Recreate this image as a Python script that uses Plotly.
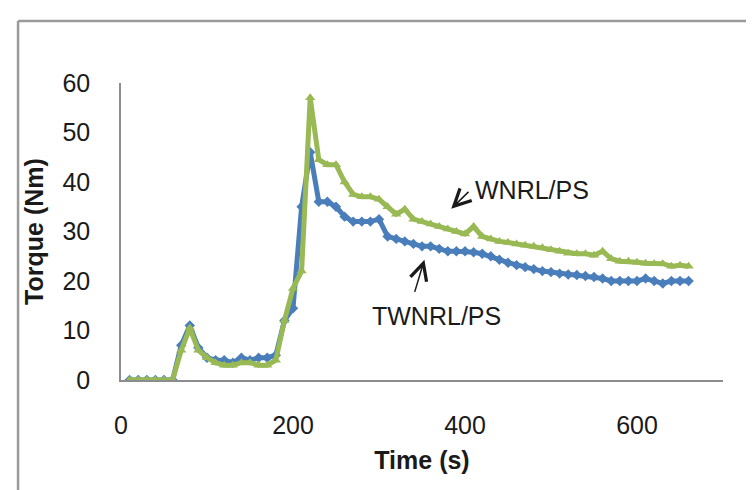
import plotly.graph_objects as go

time_s = [10, 20, 30, 40, 50, 60, 70, 80, 90, 100, 110, 120, 130, 140, 150, 160, 170, 180, 190, 200,
          210, 220, 230, 240, 250, 260, 270, 280, 290, 300, 310, 320, 330, 340, 350, 360, 370, 380, 390, 400,
          410, 420, 430, 440, 450, 460, 470, 480, 490, 500, 510, 520, 530, 540, 550, 560, 570, 580, 590, 600,
          610, 620, 630, 640, 650, 660]

twnrl_ps = [0, 0, 0, 0, 0, 0, 7, 11, 6.5, 4.5, 4, 4, 3.5, 4.5, 4, 4.5, 4.5, 5, 12, 14.5,
            35, 46, 36, 36, 35, 33, 32, 32, 32, 32.5, 29, 28.5, 28, 27.5, 27, 27, 26.5, 26, 26, 26,
            25.8, 25.5, 25, 24.3, 23.7, 23.2, 22.8, 22.4, 22, 21.8, 21.5, 21.3, 21.2, 21, 20.8, 20.5, 20, 20, 20, 20,
            20.5, 20, 19.5, 20, 20, 20]

wnrl_ps = [0, 0, 0, 0, 0, 0, 6, 10.5, 6, 4.5, 3.5, 3, 3, 3.5, 3.5, 3, 3, 4, 12, 18.5,
           22, 57, 44.5, 43.5, 43.5, 40, 37.5, 37, 37, 36.5, 35, 33.5, 34.5, 32.5, 32, 31.5, 31, 30.5, 30, 29.5,
           31, 29, 28.5, 28, 27.8, 27.5, 27.2, 27, 26.7, 26.3, 26, 25.6, 25.5, 25.5, 25.2, 26, 24.5, 24, 24, 23.8,
           23.6, 23.5, 23.5, 23, 23.2, 23]

x_ticks = [0, 200, 400, 600]
y_ticks = [0, 10, 20, 30, 40, 50, 60]

BLUE = "#4A7EBB"
GREEN = "#98B954"
FONT = "Liberation Sans"

fig = go.Figure()
fig.add_trace(go.Scatter(x=time_s, y=twnrl_ps, mode="lines+markers", name="TWNRL/PS",
                         line=dict(color=BLUE, width=5),
                         marker=dict(symbol="diamond", size=8, color=BLUE)))
fig.add_trace(go.Scatter(x=time_s, y=wnrl_ps, mode="lines+markers", name="WNRL/PS",
                         line=dict(color=GREEN, width=5),
                         marker=dict(symbol="triangle-up", size=9, color=GREEN)))

fig.add_annotation(x=384, y=34.6, ax=405.8, ay=38.3, axref="x", ayref="y", xref="x", yref="y",
                   text="", showarrow=True, arrowhead=5, arrowsize=2.2, arrowwidth=1.5, arrowcolor="#1a1a1a")
fig.add_annotation(x=477.6, y=38.4, xref="x", yref="y", text="WNRL/PS", showarrow=False,
                   font=dict(family=FONT, size=25, color="#1a1a1a"))
fig.add_annotation(x=352.8, y=24.3, ax=341, ay=17.5, axref="x", ayref="y", xref="x", yref="y",
                   text="", showarrow=True, arrowhead=5, arrowsize=2.2, arrowwidth=1.5, arrowcolor="#1a1a1a")
fig.add_annotation(x=367.3, y=13, xref="x", yref="y", text="TWNRL/PS", showarrow=False,
                   font=dict(family=FONT, size=25, color="#1a1a1a"))

# outer chart frame (top and left edges visible)
fig.add_shape(type="line", xref="paper", yref="paper", x0=-0.171, x1=1.2, y0=1.209, y1=1.209,
              line=dict(color="#9a9a9a", width=2.5))
fig.add_shape(type="line", xref="paper", yref="paper", x0=-0.171, x1=-0.171, y0=-0.5, y1=1.209,
              line=dict(color="#9a9a9a", width=2.5))

fig.update_layout(
    width=754, height=490,
    margin=dict(l=113, r=39, t=75, b=118, autoexpand=False),
    paper_bgcolor="white", plot_bgcolor="white",
    showlegend=False,
    font=dict(family=FONT, size=25, color="#1a1a1a"),
)
fig.update_xaxes(range=[0, 700], tickvals=x_ticks, showgrid=False, zeroline=False,
                 showline=True, linecolor="#8c8c8c", linewidth=1.5, ticks="",
                 ticklabelstandoff=22, tickfont=dict(size=25), automargin=False,
                 title=dict(text="<b>Time (s)</b>", font=dict(size=25), standoff=14))
fig.update_yaxes(range=[0, 60], tickvals=y_ticks, showgrid=False, zeroline=False,
                 showline=True, linecolor="#8c8c8c", linewidth=1.5, ticks="",
                 ticklabelstandoff=24, tickfont=dict(size=25), automargin=False,
                 title=dict(text="<b>Torque (Nm)</b>", font=dict(size=25), standoff=12))

fig.write_html("out.html")
